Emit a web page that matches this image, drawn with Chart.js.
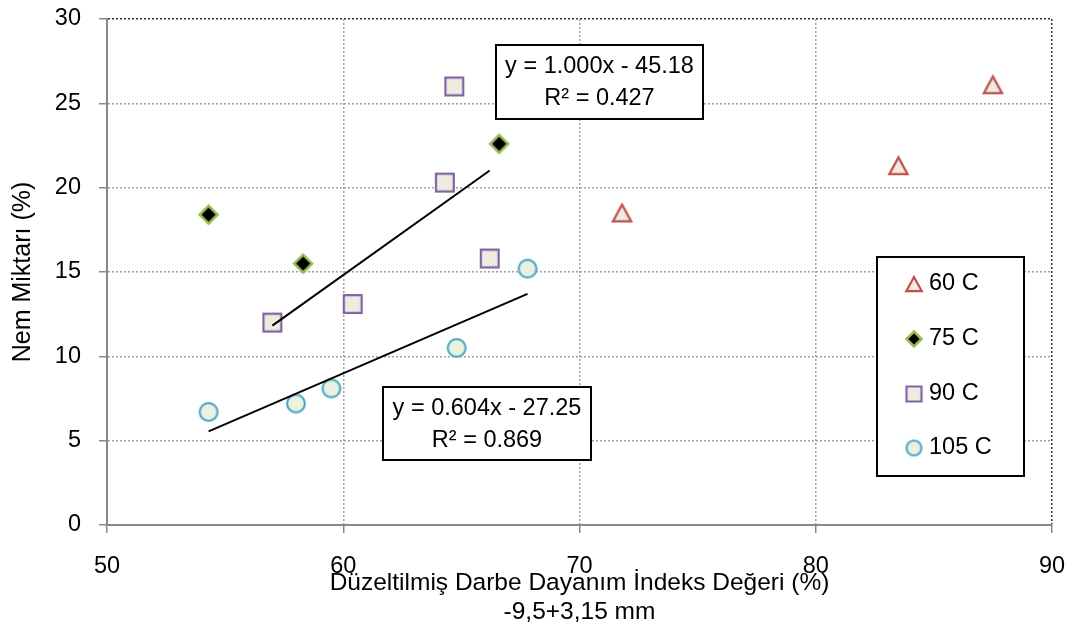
<!DOCTYPE html>
<html>
<head>
<meta charset="utf-8">
<script src="https://cdn.jsdelivr.net/npm/chart.js@4/dist/chart.umd.min.js"></script>
<style>
  html, body { margin: 0; padding: 0; background: #fff; }
  #wrap { width: 1078px; height: 630px; }
</style>
</head>
<body>
<div id="wrap"><canvas id="c" width="1078" height="630"></canvas></div>
<script>
// Series: drying temperature groups
const seriesNames = ['60 C', '75 C', '90 C', '105 C'];
const x60  = [71.8, 83.5, 87.5];
const y60  = [18.5, 21.3, 26.1];
const x75  = [54.3, 58.3, 66.6];
const y75  = [18.4, 15.5, 22.6];
const x90  = [57.0, 60.4, 64.3, 64.7, 66.2];
const y90  = [12.0, 13.1, 20.3, 26.0, 15.8];
const x105 = [54.3, 58.0, 59.5, 64.8, 67.8];
const y105 = [6.7, 7.2, 8.1, 10.5, 15.2];

// Linear trend lines (slope, intercept, R²)
const trend90  = [1.000, -45.18, 0.427];
const trend105 = [0.604, -27.25, 0.869];

// Axis ticks and titles
const xTicks = [50, 60, 70, 80, 90];
const yTicks = [0, 5, 10, 15, 20, 25, 30];
const xTitle = ['Düzeltilmiş Darbe Dayanım İndeks Değeri (%)', '-9,5+3,15 mm'];
const yTitle = 'Nem Miktarı (%)';

const FONT = "'Liberation Sans', Arial, sans-serif";
Chart.defaults.color = '#000';
Chart.defaults.font.family = FONT;

function pts(xs, ys) { return xs.map((x, i) => ({ x: x, y: ys[i] })); }
function trendPts(xs, t) {
  const a = Math.min(...xs), b = Math.max(...xs);
  return [{ x: a, y: t[0] * a + t[1] }, { x: b, y: t[0] * b + t[1] }];
}
function eqText(t) {
  const sign = t[1] < 0 ? ' - ' : ' + ';
  return ['y = ' + t[0].toFixed(3) + 'x' + sign + Math.abs(t[1]).toFixed(2), 'R² = ' + t[2].toFixed(3)];
}

// Marker images (drawn centred on their bounding box)
function makeMarker(kind, w, h, stroke, fill, lw) {
  const pad = 3;
  const c = document.createElement('canvas');
  c.width = Math.round(w + pad * 2); c.height = Math.round(h + pad * 2);
  const g = c.getContext('2d');
  const cx = c.width / 2, cy = c.height / 2;
  const hw = w / 2 - lw / 2, hh = h / 2 - lw / 2;
  g.beginPath();
  if (kind === 'triangle') {
    g.moveTo(cx, cy - hh); g.lineTo(cx + hw, cy + hh); g.lineTo(cx - hw, cy + hh); g.closePath();
  } else if (kind === 'diamond') {
    g.moveTo(cx, cy - hh); g.lineTo(cx + hw, cy); g.lineTo(cx, cy + hh); g.lineTo(cx - hw, cy); g.closePath();
  } else if (kind === 'square') {
    g.rect(cx - hw, cy - hh, hw * 2, hh * 2);
  } else {
    g.arc(cx, cy, hw, 0, Math.PI * 2);
  }
  g.fillStyle = fill; g.fill();
  g.lineWidth = lw; g.strokeStyle = stroke; g.lineJoin = 'miter'; g.stroke();
  return c;
}

const markerDefs = [
  ['triangle', 20.5, 19, '#c0504d', '#eeece1', 2.2],
  ['diamond', 20.5, 20.5, '#9bbb59', '#000000', 2.6],
  ['square', 20, 20, '#8064a2', '#eeece1', 2.2],
  ['circle', 20, 20, '#4bacc6', '#ebf1de', 2.2]
];
const plotMarkers = markerDefs.map(d => makeMarker(d[0], d[1], d[2], d[3], d[4], d[5]));
const legendMarkers = markerDefs.map(d => makeMarker(d[0], d[1] * 0.86, d[2] * 0.86, d[3], d[4], d[5]));

function series(i, data) {
  return {
    label: seriesNames[i], data: data, pointStyle: plotMarkers[i],
    pointRadius: 10, pointHoverRadius: 10, showLine: false
  };
}
function trendSet(data) {
  return {
    label: 'trend', data: data, showLine: true, borderColor: '#000', borderWidth: 2,
    pointRadius: 0, pointHoverRadius: 0, fill: false
  };
}

// Equation labels and legend panel
const overlay = {
  id: 'overlay',
  afterDatasetsDraw(chart) {
    const ctx = chart.ctx;
    ctx.save();
    const boxes = [
      { left: 496, top: 45, w: 207, h: 74, lines: eqText(trend90) },
      { left: 383, top: 387, w: 208, h: 73, lines: eqText(trend105) }
    ];
    ctx.font = '23.5px ' + FONT;
    ctx.textAlign = 'center';
    ctx.textBaseline = 'middle';
    boxes.forEach(b => {
      ctx.fillStyle = '#fff';
      ctx.fillRect(b.left, b.top, b.w, b.h);
      ctx.lineWidth = 2;
      ctx.strokeStyle = '#000';
      ctx.strokeRect(b.left, b.top, b.w, b.h);
      ctx.fillStyle = '#000';
      ctx.fillText(b.lines[0], b.left + b.w / 2, b.top + 21.5);
      ctx.fillText(b.lines[1], b.left + b.w / 2, b.top + 54);
    });

    // legend
    const L = { left: 877, top: 257, w: 147, h: 219 };
    ctx.fillStyle = '#fff';
    ctx.fillRect(L.left, L.top, L.w, L.h);
    ctx.lineWidth = 2;
    ctx.strokeStyle = '#000';
    ctx.strokeRect(L.left, L.top, L.w, L.h);
    const rows = [284, 339, 394, 448];
    ctx.textAlign = 'left';
    ctx.fillStyle = '#000';
    seriesNames.forEach((name, i) => {
      const m = legendMarkers[i];
      ctx.drawImage(m, 914 - m.width / 2, rows[i] - m.height / 2);
      ctx.fillText(name, 929, rows[i]);
    });
    ctx.restore();
  }
};

const darkEdge = (v, last) => v === last ? '#333333' : '#a0a0a0';

new Chart(document.getElementById('c'), {
  type: 'scatter',
  data: {
    datasets: [
      trendSet(trendPts(x90, trend90)),
      trendSet(trendPts(x105, trend105)),
      series(0, pts(x60, y60)),
      series(1, pts(x75, y75)),
      series(2, pts(x90, y90)),
      series(3, pts(x105, y105))
    ]
  },
  options: {
    responsive: false,
    devicePixelRatio: 1,
    animation: false,
    events: [],
    layout: { padding: { top: 19, right: 26, left: 0, bottom: 0 } },
    plugins: { legend: { display: false }, tooltip: { enabled: false } },
    scales: {
      x: {
        type: 'linear', min: 50, max: 90,
        afterBuildTicks: s => { s.ticks = xTicks.map(v => ({ value: v })); },
        afterFit: s => { s.height = 105; s.paddingLeft = 0; s.paddingRight = 0; },
        grid: {
          color: c => darkEdge(c.tick.value, 90), lineWidth: 1.5,
          tickColor: '#888', tickLength: 8, tickWidth: 1.5, tickBorderDash: []
        },
        border: { display: true, color: '#888', width: 2, dash: [2, 2] },
        ticks: { font: { size: 23.5 }, padding: 19, maxRotation: 0, color: '#000' },
        title: {
          display: true, text: xTitle, font: { size: 24.5, lineHeight: 1.18 },
          padding: { top: 0, bottom: 3.5 }, color: '#000'
        }
      },
      y: {
        type: 'linear', min: 0, max: 30,
        afterBuildTicks: s => { s.ticks = yTicks.map(v => ({ value: v })); },
        afterFit: s => { s.width = 107; s.paddingTop = 0; s.paddingBottom = 0; },
        grid: {
          color: c => darkEdge(c.tick.value, 30), lineWidth: 1.5,
          tickColor: '#888', tickLength: 8, tickWidth: 1.5, tickBorderDash: []
        },
        border: { display: true, color: '#888', width: 2, dash: [2, 2] },
        ticks: { font: { size: 23.5 }, padding: 18, color: '#000' },
        title: {
          display: true, text: yTitle, font: { size: 25, lineHeight: 1.2 },
          padding: { top: 8, bottom: 0 }, color: '#000'
        }
      }
    }
  },
  plugins: [overlay]
});
</script>
</body>
</html>
